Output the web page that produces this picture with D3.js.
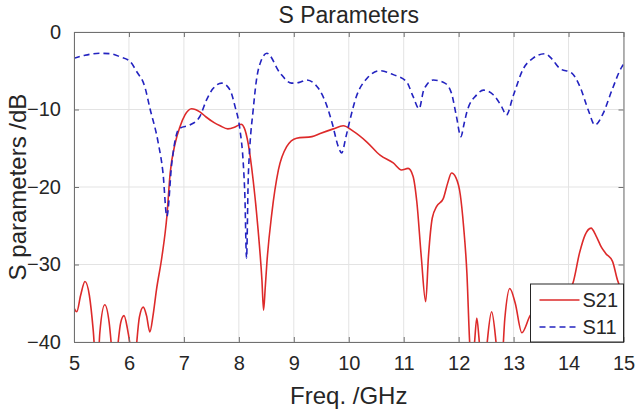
<!DOCTYPE html>
<html>
<head>
<meta charset="utf-8">
<script src="https://cdn.jsdelivr.net/npm/d3@7"></script>
<style>
  body { margin: 0; background: #fff; }
  text { font-family: "Liberation Sans", Arial, sans-serif; fill: #262626; }
</style>
</head>
<body>
<div id="chart"></div>
<script>
// S21 trace (solid red)
let s21Freq = [5.00, 5.05, 5.12, 5.20, 5.28, 5.35, 5.42, 5.47, 5.56, 5.64, 5.70, 5.74, 5.79, 5.85, 5.91, 5.97,
    6.03, 6.08, 6.13, 6.19, 6.26, 6.32, 6.38, 6.44, 6.50, 6.60, 6.69, 6.75, 6.84, 6.93, 7.02, 7.14,
    7.29, 7.41, 7.55, 7.66, 7.80, 7.92, 8.04, 8.10, 8.17, 8.26, 8.35, 8.42, 8.45, 8.48, 8.51, 8.60,
    8.72, 8.87, 9.05, 9.33, 9.48, 9.72, 9.90, 10.08, 10.33, 10.57, 10.81, 10.96, 11.08, 11.17, 11.24,
    11.32, 11.40, 11.45, 11.52, 11.60, 11.72, 11.80, 11.87, 11.95, 12.03, 12.09, 12.15, 12.20, 12.24,
    12.29, 12.33, 12.37, 12.42, 12.47, 12.52, 12.60, 12.68, 12.72, 12.78, 12.84, 12.93, 13.03, 13.15,
    13.30, 13.45, 13.60, 13.80, 14.00, 14.08, 14.20, 14.30, 14.41, 14.50, 14.60, 14.68, 14.80, 14.89, 15.00];
let s21Db = [-35.6, -36.1, -34.0, -32.2, -34.0, -38.5, -45, -38.8, -35.2, -37.5, -42, -45, -41, -37.5, -36.6, -38.2,
    -41, -45, -41, -36.8, -35.5, -36.6, -38.7, -36.5, -33.3, -29.0, -23.8, -18.2, -14.4, -12.2, -10.7, -9.9,
    -10.3, -11.0, -11.7, -12.1, -12.5, -12.3, -11.9, -12.4, -14.4, -19.1, -25.5, -32.0, -35.9, -33.0, -29.8, -23.4,
    -17.8, -14.8, -13.7, -13.5, -13.1, -12.5, -12.1, -12.8, -14.2, -15.9, -16.9, -17.8, -17.6, -18.6, -22.0,
    -29.0, -34.8, -29.0, -24.0, -22.5, -21.5, -19.5, -18.2, -18.8, -21.0, -25.1, -31.1, -40, -44,
    -40, -36.9, -39.5, -44, -44, -40, -36.1, -40, -43, -43, -37, -33.1, -35.0, -38.8,
    -36.6, -35.4, -35.0, -34.5, -33.5, -32.4, -28.5, -26.2, -25.3, -26.3, -27.8, -28.6, -29.6, -32.0, -34.0];

// S11 trace (dashed blue)
let s11Freq = [5.00, 5.20, 5.47, 5.66, 5.84, 6.02, 6.14, 6.29, 6.38, 6.53, 6.62, 6.69, 6.78, 6.87, 6.93, 7.11,
    7.29, 7.41, 7.53, 7.69, 7.84, 7.93, 8.02, 8.08, 8.11, 8.14, 8.17, 8.20, 8.26, 8.32, 8.40, 8.51,
    8.75, 8.96, 9.10, 9.23, 9.44, 9.60, 9.70, 9.81, 9.87, 9.95, 10.02, 10.14, 10.33, 10.57, 10.81, 11.05,
    11.17, 11.28, 11.36, 11.42, 11.54, 11.75, 11.87, 11.96, 12.04, 12.10, 12.15, 12.33, 12.45, 12.63, 12.78,
    12.87, 12.99, 13.18, 13.35, 13.57, 13.70, 13.84, 14.06, 14.21, 14.36, 14.48, 14.63, 14.79, 14.97, 15.00];
let s11Db = [-3.4, -3.0, -2.75, -2.8, -3.2, -3.8, -5.1, -7.1, -9.8, -14.2, -18.2, -23.8, -16.9, -13.1, -12.4, -12.0,
    -10.9, -8.8, -7.3, -6.6, -7.5, -9.6, -12.6, -16.9, -21.2, -29.2, -19.1, -14.8, -10.1, -6.2, -3.8, -2.75,
    -5.3, -6.6, -6.5, -6.2, -7.2, -9.5, -11.8, -14.8, -15.6, -13.5, -11.4, -8.3, -6.0, -5.0, -5.5, -6.4,
    -8.3, -9.9, -7.6, -6.8, -6.2, -6.6, -7.9, -10.9, -13.5, -11.8, -10.3, -8.1, -7.5, -8.1, -9.6,
    -10.7, -8.3, -4.7, -3.4, -2.8, -3.5, -4.7, -5.3, -7.1, -10.1, -12.0, -10.5, -7.5, -4.5, -4.2];

let xTicks = [5, 6, 7, 8, 9, 10, 11, 12, 13, 14, 15];
let yTicks = [-40, -30, -20, -10, 0];

const width = 636, height = 413;
const margin = {left: 74, right: 12.5, top: 32, bottom: 71};
const plotW = width - margin.left - margin.right;
const plotH = height - margin.top - margin.bottom;

let svg = d3.select("#chart").append("svg")
    .attr("width", width)
    .attr("height", height);

let g = svg.append("g")
    .attr("transform", `translate(${margin.left}, ${margin.top})`);

let x = d3.scaleLinear().domain([5, 15]).range([0, plotW]);
let y = d3.scaleLinear().domain([-40, 0]).range([plotH, 0]);

// grid
g.append("g").selectAll("line").data(xTicks).enter().append("line")
    .attr("x1", d => x(d)).attr("x2", d => x(d))
    .attr("y1", 0).attr("y2", plotH)
    .attr("stroke", "#e3e3e3").attr("stroke-width", 1);
g.append("g").selectAll("line").data(yTicks).enter().append("line")
    .attr("x1", 0).attr("x2", plotW)
    .attr("y1", d => y(d)).attr("y2", d => y(d))
    .attr("stroke", "#e3e3e3").attr("stroke-width", 1);

svg.append("clipPath").attr("id", "clip")
    .append("rect").attr("width", plotW).attr("height", plotH);

let line = (xs, ys) => d3.line()
    .x(i => x(xs[i]))
    .y(i => y(ys[i]))
    .curve(d3.curveMonotoneX)(d3.range(xs.length));

let traces = g.append("g").attr("clip-path", "url(#clip)");

traces.append("path")
    .attr("d", line(s21Freq, s21Db))
    .attr("fill", "none")
    .attr("stroke", "#dd2a2a")
    .attr("stroke-width", 1.6);

traces.append("path")
    .attr("d", line(s11Freq, s11Db))
    .attr("fill", "none")
    .attr("stroke", "#2323c0")
    .attr("stroke-width", 1.6)
    .attr("stroke-dasharray", "6,4");

// axes (box with inward ticks)
let xAxis = g.append("g")
    .attr("transform", `translate(0, ${plotH})`)
    .call(d3.axisBottom(x).tickValues(xTicks).tickSizeInner(-5).tickSizeOuter(0).tickPadding(14));
let xAxisTop = g.append("g")
    .call(d3.axisTop(x).tickValues(xTicks).tickSizeInner(-5).tickSizeOuter(0).tickFormat(""));
let yAxis = g.append("g")
    .call(d3.axisLeft(y).tickValues(yTicks).tickSizeInner(-5).tickSizeOuter(0).tickPadding(13));
let yAxisRight = g.append("g")
    .attr("transform", `translate(${plotW}, 0)`)
    .call(d3.axisRight(y).tickValues(yTicks).tickSizeInner(-5).tickSizeOuter(0).tickFormat(""));

[xAxis, xAxisTop, yAxis, yAxisRight].forEach(a => {
    a.select(".domain").attr("stroke", "#707070").attr("stroke-width", 1);
    a.selectAll(".tick line").attr("stroke", "#707070");
    a.selectAll(".tick text")
        .style("font-family", "'Liberation Sans', Arial, sans-serif")
        .style("font-size", "20px")
        .attr("fill", "#262626");
});

// titles
svg.append("text")
    .attr("x", margin.left + plotW / 2)
    .attr("y", 23)
    .style("text-anchor", "middle")
    .style("font-size", "23px")
    .text("S Parameters");

svg.append("text")
    .attr("x", margin.left + plotW / 2)
    .attr("y", 404)
    .style("text-anchor", "middle")
    .style("font-size", "24px")
    .text("Freq. /GHz");

svg.append("text")
    .attr("transform", `translate(26, ${margin.top + plotH / 2}) rotate(-90)`)
    .style("text-anchor", "middle")
    .style("font-size", "24px")
    .text("S parameters /dB");

// legend
let legend = g.append("g").attr("transform", `translate(${plotW - 93}, ${plotH - 58})`);
legend.append("rect")
    .attr("width", 93).attr("height", 58)
    .attr("fill", "#fff").attr("stroke", "#262626").attr("stroke-width", 1);
let legendItems = [
    {name: "S21", color: "#dd2a2a", dash: null},
    {name: "S11", color: "#2323c0", dash: "6,4"}
];
legendItems.forEach((d, i) => {
    let yy = 16 + i * 27;
    legend.append("line")
        .attr("x1", 9).attr("x2", 49).attr("y1", yy).attr("y2", yy)
        .attr("stroke", d.color).attr("stroke-width", 1.6)
        .attr("stroke-dasharray", d.dash);
    legend.append("text")
        .attr("x", 52).attr("y", yy + 7)
        .style("font-size", "20px")
        .text(d.name);
});
</script>
</body>
</html>
